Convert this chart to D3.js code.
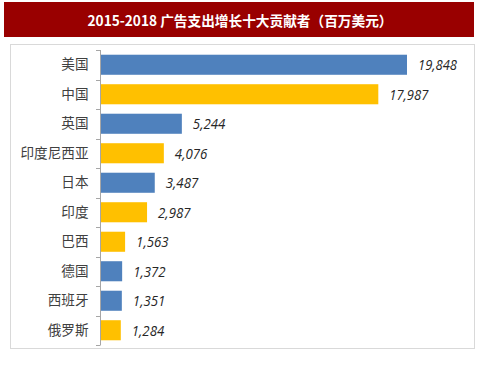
<!DOCTYPE html>
<html>
<head>
<meta charset="utf-8">
<script src="https://cdn.jsdelivr.net/npm/d3@7"></script>
<style>
  body { margin: 0; background: #fff; }
  svg { display: block; }
</style>
</head>
<body>
<div id="chart"></div>
<script>
// data
const countries = ['美国', '中国', '英国', '印度尼西亚', '日本', '印度', '巴西', '德国', '西班牙', '俄罗斯'];
const spendGrowth = [19848, 17987, 5244, 4076, 3487, 2987, 1563, 1372, 1351, 1284];
const barGroup = ['blue', 'yellow', 'blue', 'yellow', 'blue', 'yellow', 'yellow', 'blue', 'blue', 'yellow'];
const chartTitle = '2015-2018 广告支出增长十大贡献者（百万美元）';

const colors = { blue: '#4f81bd', yellow: '#ffc000' };

const width = 503, height = 378;
const svg = d3.select('#chart').append('svg')
  .attr('width', width)
  .attr('height', height);

// title banner
svg.append('rect')
  .attr('x', 4).attr('y', 2)
  .attr('width', 470).attr('height', 35)
  .attr('fill', '#990000');
svg.append('text')
  .attr('x', 240).attr('y', 20)
  .attr('text-anchor', 'middle')
  .attr('dominant-baseline', 'central')
  .attr('fill', '#fff')
  .attr('font-family', '"Noto Sans CJK SC", sans-serif')
  .attr('font-weight', 'bold')
  .attr('font-size', 14)
  .attr('textLength', 305)
  .attr('lengthAdjust', 'spacingAndGlyphs')
  .text(chartTitle);

// plot area frame
svg.append('rect')
  .attr('x', 10.5).attr('y', 44.5)
  .attr('width', 464).attr('height', 304)
  .attr('fill', 'none')
  .attr('stroke', '#d9d9d9');

const data = countries.map((c, i) => ({ name: c, value: spendGrowth[i], group: barGroup[i] }));

const x = d3.scaleLinear().domain([0, 19848]).range([101, 407]);
const y = d3.scaleBand().domain(countries).range([50, 345]).paddingInner(0.32).paddingOuter(0.16);

// category axis
const axis = svg.append('g')
  .attr('transform', 'translate(100.5,0)')
  .call(d3.axisLeft(y).tickSize(0).tickPadding(12));
axis.select('.domain').remove();
axis.selectAll('text')
  .attr('fill', '#404040')
  .attr('font-family', '"Noto Sans CJK SC", sans-serif')
  .attr('font-size', 13.6);

// axis line with tick marks between categories
const step = y.step();
const tickYs = d3.range(countries.length + 1).map(i => 50 + i * step);
svg.append('line')
  .attr('x1', 100.5).attr('x2', 100.5)
  .attr('y1', 50).attr('y2', 345)
  .attr('stroke', '#a6a6a6');
svg.selectAll('.cat-tick')
  .data(tickYs)
  .join('line')
  .attr('class', 'cat-tick')
  .attr('x1', 96).attr('x2', 100.5)
  .attr('y1', d => Math.round(d) + 0.5)
  .attr('y2', d => Math.round(d) + 0.5)
  .attr('stroke', '#a6a6a6');

// bars
svg.selectAll('.bar')
  .data(data)
  .join('rect')
  .attr('class', 'bar')
  .attr('x', x(0))
  .attr('y', d => y(d.name))
  .attr('width', d => x(d.value) - x(0))
  .attr('height', y.bandwidth())
  .attr('fill', d => colors[d.group]);

// value labels
svg.selectAll('.value')
  .data(data)
  .join('text')
  .attr('class', 'value')
  .attr('x', d => x(d.value) + 11)
  .attr('y', d => y(d.name) + y.bandwidth() / 2)
  .attr('dominant-baseline', 'central')
  .attr('fill', '#262626')
  .attr('font-family', '"Open Sans", sans-serif')
  .attr('font-style', 'italic')
  .attr('font-size', 14)
  .attr('textLength', d => d3.format(',')(d.value).length * 6.5)
  .attr('lengthAdjust', 'spacingAndGlyphs')
  .text(d => d3.format(',')(d.value));
</script>
</body>
</html>
